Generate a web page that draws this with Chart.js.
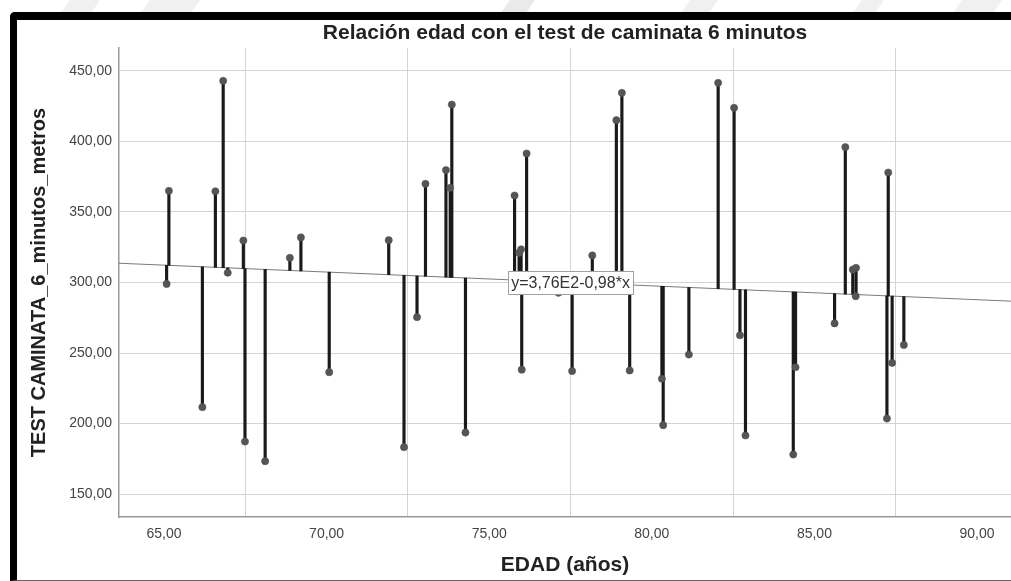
<!DOCTYPE html>
<html><head><meta charset="utf-8">
<script src="https://cdn.jsdelivr.net/npm/chart.js@4.4.1/dist/chart.umd.min.js"></script>
<style>
html,body{margin:0;padding:0;background:#fff;width:1011px;height:581px;overflow:hidden;position:relative;}
#frame{position:absolute;left:10px;top:12px;width:1010px;height:560px;border-left:7px solid #000;border-top:8px solid #000;border-bottom:1px solid #666;border-top-left-radius:5px;}
.wm{position:absolute;top:-12px;height:24px;background:#f0f0f0;transform:skewX(-35deg);}
#c{position:absolute;left:0;top:0;}
</style></head>
<body>
<div class="wm" style="left:70px;width:30px;"></div>
<div class="wm" style="left:150px;width:50px;"></div>
<div class="wm" style="left:510px;width:25px;background:#eaeaea"></div>
<div class="wm" style="left:690px;width:28px;"></div>
<div class="wm" style="left:862px;width:22px;"></div>
<div class="wm" style="left:962px;width:40px;"></div>
<div id="frame"></div>
<canvas id="c" width="1011" height="581"></canvas>
<script>
const edad = [65.15,65.08,66.18,66.58,66.82,66.96,67.44,67.49,68.11,68.87,69.21,70.08,71.91,72.38,72.78,73.04,73.67,73.80,73.85,74.27,75.78,75.92,75.98,76.00,76.15,77.13,77.55,78.17,78.91,79.08,79.32,80.31,80.35,81.14,82.04,82.53,82.71,82.88,84.35,84.42,85.62,85.95,86.18,86.28,86.27,87.23,87.27,87.39,87.75];
const metros = [365.0,299.0,211.6,364.7,443.0,306.9,329.8,187.2,173.3,317.5,332.0,236.4,330.0,183.2,275.4,370.0,379.7,367.2,426.2,193.6,361.7,321.0,323.5,238.2,391.5,292.7,237.2,319.2,415.1,434.5,237.6,231.7,198.8,248.9,441.6,423.9,262.6,191.5,178.0,239.9,271.0,396.0,309.2,310.4,290.3,203.5,378.0,243.0,255.7];
const xTicks = [65,70,75,80,85,90];
const yTicks = [150,200,250,300,350,400,450];
const fitIntercept = 376;
const fitSlope = -0.98;
const fitLabel = 'y=3,76E2-0,98*x';
const xRange = [63.616, 91.045];
const yRange = [133.7, 466.3];

const fit = x => fitIntercept + fitSlope * x;
const fmt = v => Number(v).toFixed(2).replace('.', ',');
Chart.defaults.font.family = "'Liberation Sans', Arial, sans-serif";

const labelPlugin = {
  id: 'fitLabel',
  afterDatasetsDraw(chart) {
    const {ctx, scales: {x, y}} = chart;
    const xv = 77.5;
    const cx = x.getPixelForValue(xv), cy = y.getPixelForValue(fit(xv));
    ctx.save();
    ctx.font = "16px 'Liberation Sans', Arial, sans-serif";
    const w = ctx.measureText(fitLabel).width + 6, h = 23;
    ctx.fillStyle = '#fff';
    ctx.fillRect(cx - w/2, cy - h/2, w, h);
    ctx.strokeStyle = '#a0a0a0';
    ctx.lineWidth = 1;
    ctx.strokeRect(Math.round(cx - w/2) + 0.5, Math.round(cy - h/2) + 0.5, Math.round(w), h);
    ctx.fillStyle = '#333';
    ctx.textAlign = 'center';
    ctx.textBaseline = 'middle';
    ctx.fillText(fitLabel, cx, cy + 1);
    ctx.restore();
  }
};

new Chart(document.getElementById('c'), {
  type: 'scatter',
  data: {
    datasets: [
      {
        type: 'scatter',
        data: edad.map((x, i) => ({x, y: metros[i]})),
        pointRadius: 3.6,
        backgroundColor: '#555',
        borderColor: 'rgba(80,80,80,0.55)',
        borderWidth: 1
      },
      {
        type: 'bar',
        data: edad.map((x, i) => ({x, y: [fit(x), metros[i]]})),
        backgroundColor: '#1a1a1a',
        barThickness: 2.5,
        borderWidth: 0
      },
      {
        type: 'line',
        data: xRange.map(x => ({x, y: fit(x)})),
        borderColor: '#7a7a7a',
        borderWidth: 1,
        pointRadius: 0,
        fill: false
      }
    ]
  },
  options: {
    responsive: false,
    animation: false,
    layout: {padding: 0, autoPadding: false},
    plugins: {
      legend: {display: false},
      tooltip: {enabled: false},
      title: {
        display: true,
        fullSize: false,
        text: 'Relación edad con el test de caminata 6 minutos',
        color: '#222',
        font: {size: 21, weight: 'bold'},
        padding: {top: 20.4, bottom: 2.4}
      }
    },
    scales: {
      x: {
        type: 'linear', min: xRange[0], max: xRange[1], offset: false,
        afterBuildTicks: s => { s.ticks = xTicks.map(v => ({value: v})); },
        afterFit: s => { s.height = 64; },
        grid: {color: '#d4d4d4', lineWidth: 1, drawTicks: false},
        border: {color: '#999', width: 1.5},
        ticks: {padding: 9, color: '#444', font: {size: 14}, callback: v => fmt(v), maxRotation: 0, autoSkip: false},
        title: {display: true, text: 'EDAD (años)', color: '#222', font: {size: 21, weight: 'bold'}, padding: {top: 0, bottom: 3.4}}
      },
      y: {
        type: 'linear', min: yRange[0], max: yRange[1],
        afterBuildTicks: s => { s.ticks = yTicks.map(v => ({value: v})); },
        afterFit: s => { s.width = 119; },
        grid: {color: '#d4d4d4', lineWidth: 1, drawTicks: false},
        border: {color: '#999', width: 1.5},
        ticks: {padding: 7, color: '#444', font: {size: 14}, callback: v => fmt(v), autoSkip: false},
        title: {display: true, text: 'TEST CAMINATA_6_minutos_metros', color: '#222', font: {size: 20, weight: 'bold'}, padding: {top: 27, bottom: 0}}
      }
    }
  },
  plugins: [labelPlugin]
});
</script>
</body></html>
